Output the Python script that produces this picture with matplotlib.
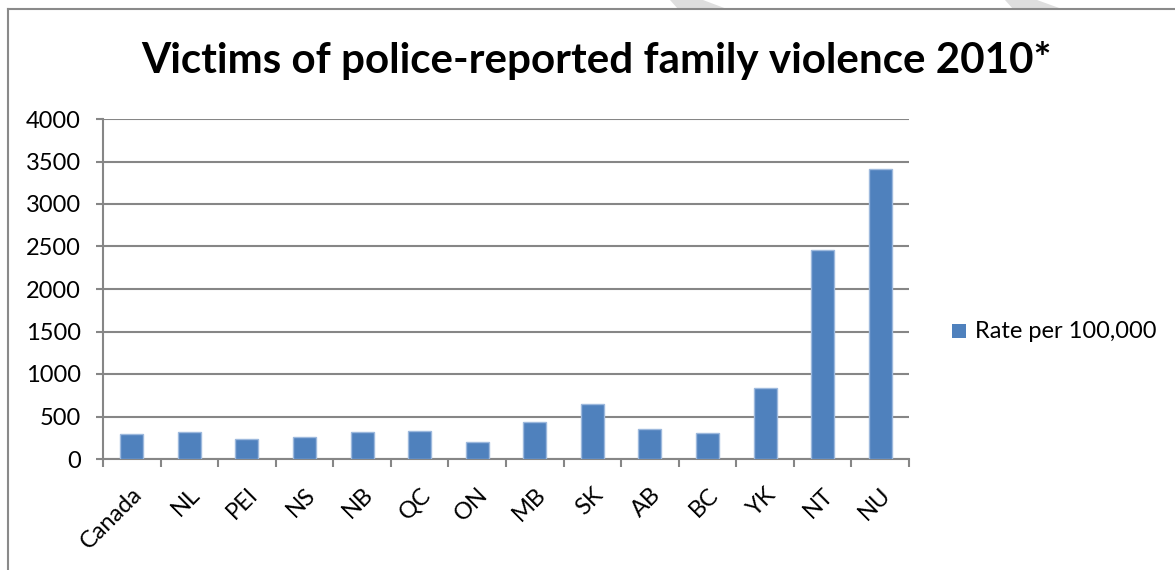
import matplotlib
matplotlib.use("Agg")
import matplotlib.pyplot as plt
from matplotlib.patches import Polygon, Rectangle
import numpy as np

categories = ["Canada", "NL", "PEI", "NS", "NB", "QC", "ON", "MB", "SK", "AB", "BC", "YK", "NT", "NU"]
rates = [294, 318, 232, 262, 318, 329, 204, 431, 643, 349, 302, 839, 2459, 3412]
yticks = [0, 500, 1000, 1500, 2000, 2500, 3000, 3500, 4000]
title = "Victims of police-reported family violence 2010*"
series_name = "Rate per 100,000"

plt.rcParams['font.family'] = ['Lato', 'DejaVu Sans']

W, H = 1175, 570
fig = plt.figure(figsize=(W / 100, H / 100), dpi=100)
fig.patch.set_facecolor("white")

# watermark stripes
for pts in [[(670, 0), (703, 0), (727, 9), (678, 9)], [(1005, 0), (1037, 0), (1062, 9), (1013, 9)]]:
    fig.patches.append(Polygon([(x / W, 1 - y / H) for x, y in pts], closed=True,
                               transform=fig.transFigure, facecolor="#dedede", edgecolor="none", zorder=0))

# chart frame
fig.lines.append(plt.Line2D([8 / W, 8 / W], [0, 1 - 9 / H], transform=fig.transFigure, color="#8a8a8a", lw=1.5))
fig.lines.append(plt.Line2D([8 / W, 1], [1 - 9 / H, 1 - 9 / H], transform=fig.transFigure, color="#8a8a8a", lw=1.5))

ax = fig.add_axes([103 / W, 1 - 459 / H, (909 - 103) / W, (459 - 119) / H])
x = np.arange(len(categories))
bars = ax.bar(x, rates, width=0.4, color="#4F81BD", edgecolor="#9DB9DD", linewidth=1.0,
              label=series_name, zorder=3)

ax.set_xlim(-0.5, len(categories) - 0.5)
ax.set_ylim(0, 4000)
ax.set_yticks(yticks)
ax.set_yticklabels([str(v) for v in yticks], fontsize=17)
ax.yaxis.grid(True, color="#868686", linewidth=1.5, zorder=0)
ax.set_axisbelow(True)

for s in ["top", "right"]:
    ax.spines[s].set_visible(False)
for s in ["left", "bottom"]:
    ax.spines[s].set_color("#868686")
    ax.spines[s].set_linewidth(1.5)

ax.set_xticks(np.arange(-0.5, len(categories), 1.0), minor=False)
ax.set_xticklabels([])
ax.tick_params(axis="x", length=6, width=1.5, color="#868686")
ax.tick_params(axis="y", length=5, width=1.5, color="#868686", pad=11)

for i, c in enumerate(categories):
    ax.annotate(c, xy=(i, 0), xycoords=("data", "axes fraction"), xytext=(0, -18),
                textcoords="offset points", rotation=45, rotation_mode="anchor",
                ha="right", va="top", fontsize=17)

fig.text(0.508, 1 - 60 / H, title, ha="center", va="center", fontsize=30.3, fontweight="bold")

# legend
fig.patches.append(Rectangle((952 / W, 1 - 338 / H), 14 / W, 14 / H, transform=fig.transFigure,
                             facecolor="#4F81BD", edgecolor="none"))
fig.text(975 / W, 1 - 331 / H, series_name, ha="left", va="center", fontsize=17)

fig.savefig("out.png", dpi=100)
